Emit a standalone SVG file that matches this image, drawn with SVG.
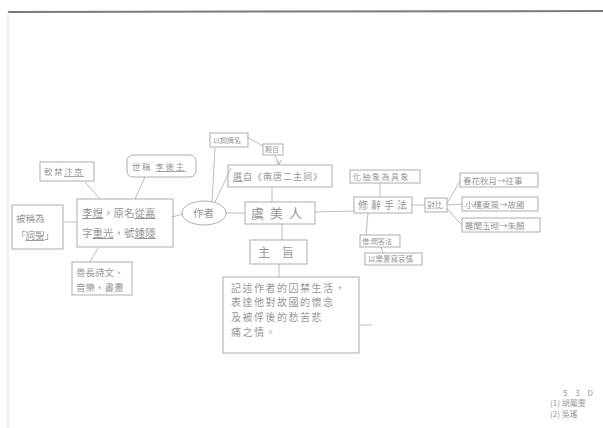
<svg xmlns="http://www.w3.org/2000/svg" width="603" height="428" viewBox="0 0 603 428">
<style>
.b{fill:none;stroke:#a4a4a4;stroke-width:0.9}
.c{fill:none;stroke:#ababab;stroke-width:0.8}
text{font-family:"Noto Sans CJK TC","Noto Sans CJK SC",sans-serif;fill:#969696}
.s{font-size:8.5px}
.m{font-size:10.5px}
.u{text-decoration:underline}
</style>
<rect width="603" height="428" fill="#fff"/>
<line x1="8" y1="12" x2="603" y2="11" stroke="#7a7a7a" stroke-width="2"/>
<line x1="8" y1="12" x2="8" y2="428" stroke="#e2e2e2" stroke-width="1"/>
<g id="connectors">
<line class="c" x1="85" y1="182" x2="100" y2="199"/>
<line class="c" x1="145" y1="177" x2="135" y2="199"/>
<line class="c" x1="63" y1="222" x2="77" y2="222"/>
<line class="c" x1="90" y1="262" x2="98" y2="248"/>
<line class="c" x1="172" y1="217" x2="183" y2="214"/>
<line class="c" x1="215" y1="148" x2="212" y2="202"/>
<line class="c" x1="231" y1="168" x2="215" y2="202"/>
<line class="c" x1="247" y1="137" x2="263" y2="146"/>
<line class="c" x1="275" y1="155" x2="279" y2="164"/>
<path class="c" d="M276 161 L279 165 L281 160"/>
<line class="c" x1="226" y1="213" x2="245" y2="213"/>
<line class="c" x1="272" y1="187" x2="272" y2="202"/>
<line class="c" x1="315" y1="212" x2="354" y2="211"/>
<line class="c" x1="282" y1="224" x2="282" y2="240"/>
<line class="c" x1="279" y1="264" x2="279" y2="277"/>
<line class="c" x1="360" y1="325" x2="372" y2="325"/>
<line class="c" x1="380" y1="183" x2="380" y2="197"/>
<line class="c" x1="412" y1="205" x2="425" y2="205"/>
<line class="c" x1="368" y1="213" x2="366" y2="235"/>
<line class="c" x1="381" y1="247" x2="383" y2="253"/>
<path class="c" d="M447 203 Q454 192 460 181"/>
<line class="c" x1="447" y1="205" x2="462" y2="204"/>
<path class="c" d="M447 208 Q454 218 462 225"/>
</g>
<g id="n_jinjing"><rect class="b" x="40" y="162" width="54" height="19"/><text class="s" x="44" y="175" style="letter-spacing:1.5px">軟禁<tspan class="u">汴京</tspan></text></g>
<g id="n_houzhu"><rect class="b" x="127" y="155" width="69" height="22" rx="6"/><text class="s" x="132" y="170" style="letter-spacing:1.5px">世稱 <tspan class="u">李後主</tspan></text></g>
<g id="n_liyu"><rect class="b" x="77" y="199" width="96" height="48"/><text class="m" x="82" y="217"><tspan class="u">李煜</tspan>，原名<tspan class="u">從嘉</tspan></text><text class="m" x="82" y="237">字<tspan class="u">重光</tspan>，號<tspan class="u">鍾隱</tspan></text></g>
<g id="n_cisheng"><rect class="b" x="12" y="205" width="51" height="44"/><text class="s" x="16" y="222" style="font-size:9.5px">被稱為</text><text class="s" x="16" y="239" style="font-size:9.5px">「<tspan class="u">詞聖</tspan>」</text></g>
<g id="n_shanchang"><rect class="b" x="72" y="262" width="60" height="33"/><text class="s" x="76" y="276" style="font-size:9.5px">善長詩文、</text><text class="s" x="76" y="291" style="font-size:9.5px">音樂、書畫</text></g>
<g id="n_zuozhe"><ellipse class="b" cx="204" cy="213" rx="22" ry="12"/><text class="m" x="193" y="217">作者</text></g>
<g id="n_cipai"><rect class="b" x="210" y="133" width="38" height="14"/><text x="213" y="143" style="font-size:7px">以詞牌名</text></g>
<g id="n_timu"><rect class="b" x="263" y="144" width="20" height="11"/><text x="265" y="152" style="font-size:7px">題目</text></g>
<g id="n_xuanzi"><rect class="b" x="228" y="165" width="104" height="22"/><text x="233" y="180" style="font-size:9px;letter-spacing:1px"><tspan class="u">選</tspan>自《南唐二主詞》</text></g>
<g id="n_yumeiren"><rect class="b" x="245" y="202" width="70" height="22"/><text x="251" y="218" style="font-size:13px;letter-spacing:6px">虞美人</text></g>
<g id="n_zhuzhi"><rect class="b" x="250" y="240" width="57" height="24"/><text x="258" y="257" style="font-size:12px;letter-spacing:12px">主旨</text></g>
<g id="n_summary"><rect class="b" x="223" y="277" width="136" height="76"/><text class="m" x="231" y="292" style="font-size:10px;letter-spacing:1.5px">記述作者的囚禁生活，</text><text class="m" x="231" y="306" style="font-size:10px;letter-spacing:1.5px">表達他對故國的懷念</text><text class="m" x="231" y="321" style="font-size:10px;letter-spacing:1.5px">及被俘後的愁苦悲</text><text class="m" x="231" y="336" style="font-size:10px;letter-spacing:1.5px">痛之情。</text></g>
<g id="n_xiuci"><rect class="b" x="354" y="197" width="58" height="16"/><text x="358" y="209" style="font-size:10px;letter-spacing:3px">修辭手法</text></g>
<g id="n_chouxiang"><rect class="b" x="350" y="170" width="70" height="13"/><text x="353" y="180" style="font-size:8px;letter-spacing:1.5px">化抽象為具象</text></g>
<g id="n_duibi"><rect class="b" x="425" y="198" width="22" height="14"/><text x="427" y="208" style="font-size:8px">對比</text></g>
<g id="n_d1"><rect class="b" x="460" y="173" width="78" height="14"/><text x="463" y="184" style="font-size:8.5px">春花秋月→往事</text></g>
<g id="n_d2"><rect class="b" x="462" y="197" width="76" height="14"/><text x="465" y="208" style="font-size:8.5px">小樓東風→故國</text></g>
<g id="n_d3"><rect class="b" x="462" y="218" width="78" height="14"/><text x="465" y="229" style="font-size:8.5px">雕闌玉砌→朱顏</text></g>
<g id="n_wenda"><rect class="b" x="360" y="235" width="40" height="12"/><text x="362" y="244" style="font-size:7px">借:問答法</text></g>
<g id="n_yueqing"><rect class="b" x="365" y="253" width="57" height="12"/><text x="368" y="262" style="font-size:7.5px">以樂景寫哀情</text></g>
<g id="n_names"><text x="563" y="396" style="font-size:8px;letter-spacing:3px">5 3 D</text><text x="550" y="406" style="font-size:8px">(1) 胡鳳雯</text><text x="550" y="417" style="font-size:8px">(2) 吳瑤</text></g>
</svg>
